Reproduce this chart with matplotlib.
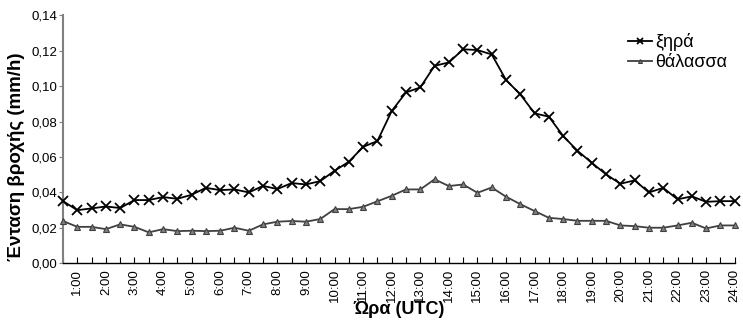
import matplotlib
matplotlib.use("Agg")
import matplotlib.pyplot as plt

plt.rcParams['font.family'] = ['Liberation Sans', 'DejaVu Sans']

hours = [f"{h}:{m}" for h in range(0, 25) for m in ("00", "30")][1:49]
labels = [f"{h}:00" for h in range(1, 25)]

xira = [0.0351, 0.0300, 0.0310, 0.0321, 0.0312, 0.0357, 0.0357, 0.0374, 0.0364, 0.0387,
        0.0426, 0.0413, 0.0417, 0.0400, 0.0437, 0.0419, 0.0453, 0.0445, 0.0464, 0.0522,
        0.0573, 0.0657, 0.0690, 0.0859, 0.0964, 0.0992, 0.1114, 0.1133, 0.1207, 0.1203,
        0.1178, 0.1034, 0.0953, 0.0846, 0.0827, 0.0718, 0.0635, 0.0567, 0.0502, 0.0449,
        0.0468, 0.0400, 0.0426, 0.0361, 0.0378, 0.0347, 0.0351, 0.0351]
thalassa = [0.0239, 0.0206, 0.0206, 0.0193, 0.0220, 0.0206, 0.0175, 0.0193, 0.0182, 0.0184,
            0.0182, 0.0184, 0.0201, 0.0184, 0.0220, 0.0235, 0.0239, 0.0235, 0.0250, 0.0306,
            0.0306, 0.0319, 0.0350, 0.0381, 0.0417, 0.0417, 0.0474, 0.0436, 0.0445, 0.0398,
            0.0428, 0.0376, 0.0334, 0.0295, 0.0257, 0.0250, 0.0240, 0.0240, 0.0240, 0.0214,
            0.0210, 0.0201, 0.0201, 0.0214, 0.0229, 0.0197, 0.0214, 0.0214]

fig = plt.figure(figsize=(7.43, 3.28), dpi=100)
ax = fig.add_axes([0.0848, 0.197, 0.904, 0.757])

x = list(range(len(hours)))
ax.plot(x, xira, color='black', lw=1.3, marker='x', ms=7, mew=1.3, label='ξηρά', clip_on=False, zorder=3)
ax.plot(x, thalassa, color='#404040', lw=1.3, marker='^', ms=4, mfc='#808080', mec='#404040', mew=0.8,
        label='θάλασσα', clip_on=False, zorder=3)

ax.set_xlim(0, len(hours) - 1)
ax.set_ylim(0, 0.14)
yt = [0, 0.02, 0.04, 0.06, 0.08, 0.10, 0.12, 0.14]
ax.set_yticks(yt)
ax.set_yticklabels([f"{v:.2f}".replace('.', ',') for v in yt], fontsize=9.5)
ax.set_xticks(x)
ax.set_xticklabels([h if h in labels else '' for h in hours], rotation=90, fontsize=9.5)
ax.tick_params(axis='x', direction='in', length=4, width=0.8, pad=4)
ax.tick_params(axis='y', direction='out', length=3, width=0.8, pad=1, color='#808080')

for s in ('top', 'right'):
    ax.spines[s].set_visible(False)
ax.spines['left'].set_color('#808080')
ax.spines['left'].set_linewidth(1.5)
ax.spines['bottom'].set_color('black')
ax.spines['bottom'].set_linewidth(1.0)

ax.set_ylabel('Ένταση βροχής (mm/h)', fontsize=13.5, fontweight='bold')
ax.yaxis.set_label_coords(-0.056, 0.43)
ax.set_xlabel('Ώρα (UTC)', fontsize=13, fontweight='bold', labelpad=-1)

leg = ax.legend(loc='upper right', bbox_to_anchor=(1.0, 0.955), frameon=False, fontsize=13,
                handlelength=1.3, handletextpad=0.2, borderaxespad=0, labelspacing=0.15,
                markerscale=0.7)

fig.savefig('out.png', dpi=100)
